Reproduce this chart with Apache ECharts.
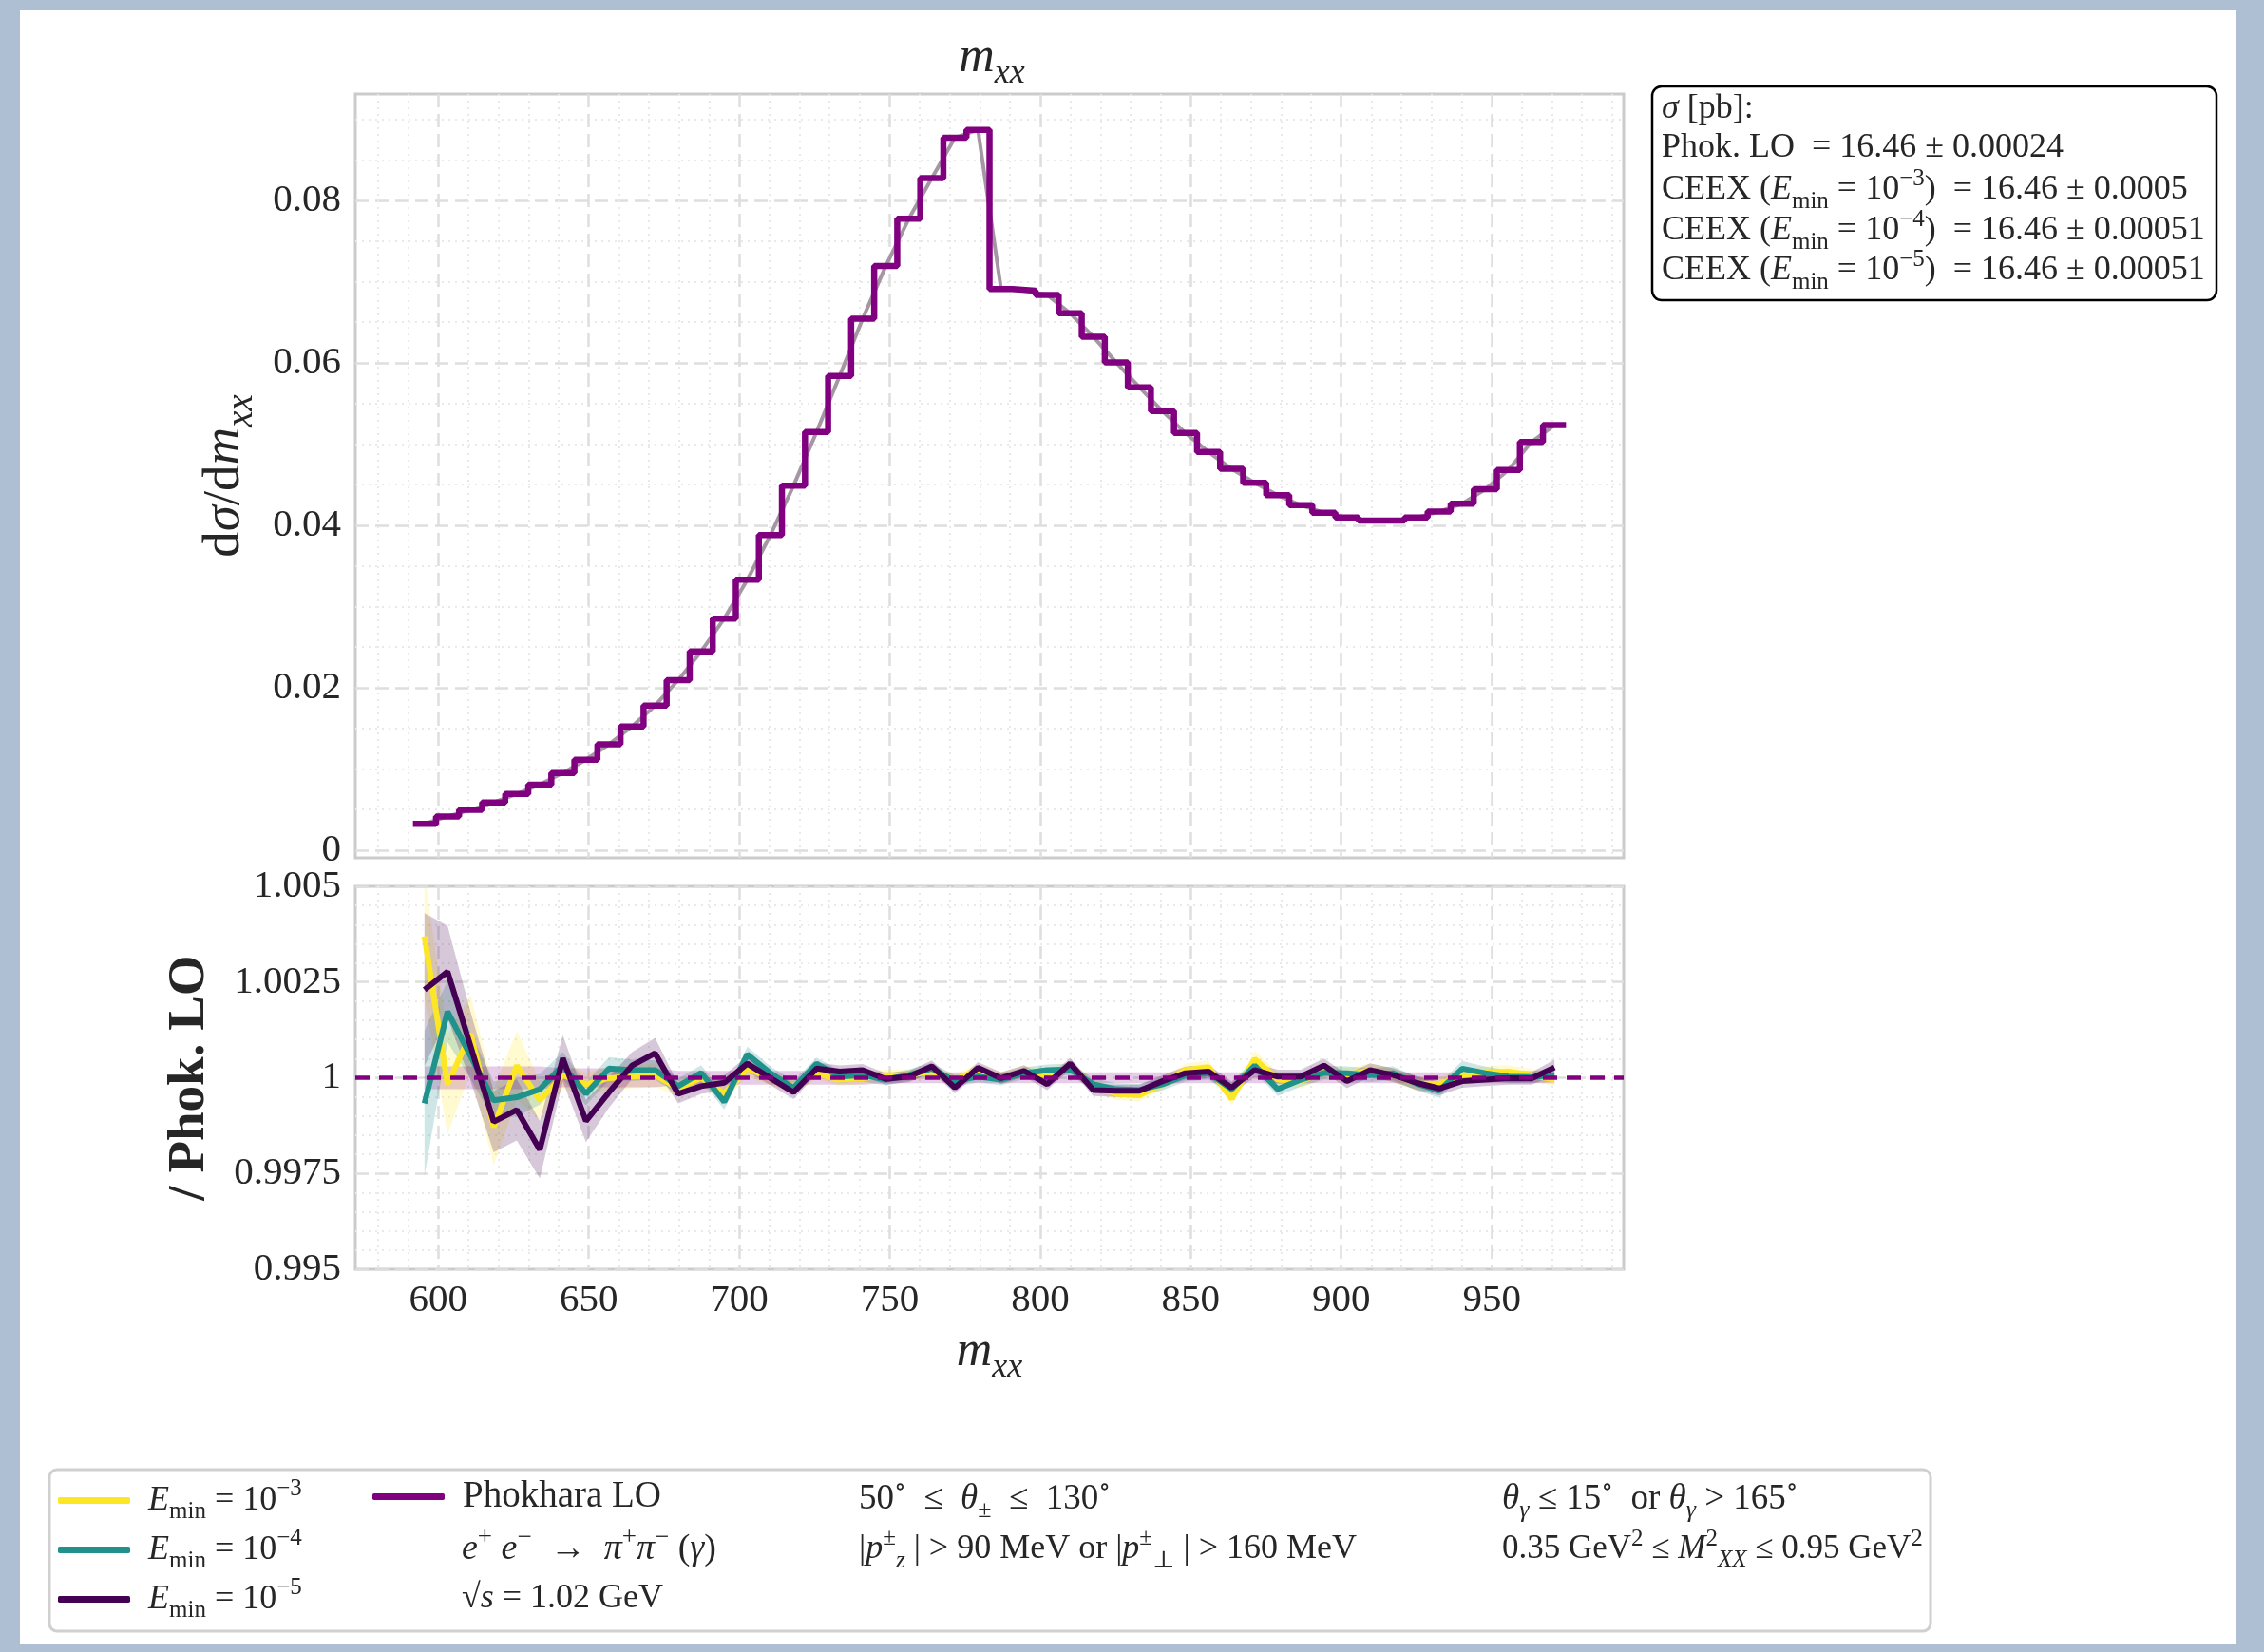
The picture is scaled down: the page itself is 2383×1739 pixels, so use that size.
<!DOCTYPE html>
<html><head><meta charset="utf-8">
<script src="https://cdn.jsdelivr.net/npm/echarts@6/dist/echarts.min.js"></script>
<style>html,body{margin:0;padding:0;background:#fff;overflow:hidden}#c{width:2383px;height:1739px}</style>
</head><body><div id="c"></div>
<script>
// ---------------- data ----------------
const massEdges = [591.61,599.27,606.93,614.59,622.26,629.92,637.58,645.24,652.90,660.56,668.22,675.89,683.55,691.21,698.87,706.53,714.19,721.85,729.52,737.18,744.84,752.50,760.16,767.82,775.48,783.15,790.81,798.47,806.13,813.79,821.45,829.11,836.77,844.44,852.10,859.76,867.42,875.08,882.74,890.40,898.07,905.73,913.39,921.05,928.71,936.37,944.03,951.70,959.36,967.02,974.68];
const massCenters = [595.44,603.10,610.76,618.43,626.09,633.75,641.41,649.07,656.73,664.39,672.06,679.72,687.38,695.04,702.70,710.36,718.02,725.69,733.35,741.01,748.67,756.33,763.99,771.65,779.32,786.98,794.64,802.30,809.96,817.62,825.28,832.94,840.61,848.27,855.93,863.59,871.25,878.91,886.57,894.24,901.90,909.56,917.22,924.88,932.54,940.20,947.87,955.53,963.19,970.85];
const phokLO = [0.00324,0.00416,0.00496,0.00588,0.00692,0.00808,0.00949,0.01114,0.01304,0.01524,0.01781,0.02093,0.02448,0.02852,0.0333,0.0388,0.04487,0.05148,0.0584,0.06543,0.07192,0.07774,0.08275,0.08771,0.08869,0.0691,0.0689,0.06837,0.0661,0.06323,0.06005,0.05699,0.05405,0.05136,0.04903,0.04695,0.04523,0.0437,0.04248,0.04156,0.04095,0.04058,0.04058,0.04095,0.04168,0.04266,0.04444,0.04682,0.05025,0.05233];
const ratioE3 = [1.00369,0.99983,1.00115,0.99871,1.00032,0.99941,1.00007,0.99983,0.99999,1.00003,1.00007,0.99972,1.00000,0.99958,1.00024,0.99999,0.99978,1.00012,0.99995,0.99999,1.00007,1.00007,1.00016,0.99995,1.0002,0.99999,1.00016,1.00007,1.00028,0.9998,0.99958,0.99954,0.99985,1.0002,1.00028,0.99945,1.00049,0.99995,0.99991,1.00016,1.00007,1.0002,1.00007,0.99985,0.99983,1.00007,1.00013,1.00016,1.00007,0.99995];
const ratioE4 = [0.99933,1.00173,1.00057,0.99941,0.99949,0.9997,1.00032,0.99958,1.00024,1.0002,1.0002,0.99978,1.00013,0.99937,1.00061,1.00012,0.99974,1.00037,1.00003,1.00007,0.99995,1.00007,1.00024,0.99991,1.00003,0.99995,1.00012,1.0002,1.00022,0.99983,0.9997,0.99968,0.99983,1.00007,1.00012,0.9997,1.00032,0.9997,0.99995,1.00013,1.00012,1.00007,1.00012,0.99985,0.99966,1.00024,1.00012,1.00003,1.00002,1.00007];
const ratioE5 = [1.0023,1.00277,1.00082,0.99885,0.99916,0.99812,1.00051,0.99887,0.99962,1.00032,1.00064,0.99958,0.99978,0.99987,1.00037,0.99999,0.99962,1.00024,1.00016,1.0002,0.99997,1.00003,1.0003,0.99974,1.00026,0.99999,1.00018,0.99983,1.00037,0.99968,0.99966,0.99966,0.99991,1.00012,1.00016,0.99974,1.0002,1.00003,1.00003,1.00032,0.99991,1.0002,1.00007,0.99987,0.99972,0.99991,0.99995,0.99999,0.99998,1.00027];
const errE3 = [0.0016,0.0013,0.0010,0.0010,0.0009,0.0005,0.00035,0.0003,0.0003,0.0003,0.0003,0.00022,0.0002,0.0002,0.0002,0.00018,0.00018,0.00016,0.00016,0.00016,0.00015,0.00015,0.00015,0.00015,0.00015,0.00015,0.00015,0.00015,0.00015,0.00016,0.00016,0.00016,0.00016,0.00017,0.00017,0.00017,0.00022,0.00018,0.00018,0.00018,0.00018,0.00018,0.00018,0.00018,0.00018,0.00017,0.00017,0.00017,0.00016,0.00016];
const errE4 = [0.0019,0.0008,0.0006,0.0005,0.0005,0.0004,0.00035,0.0003,0.0003,0.00028,0.00025,0.0002,0.0002,0.0002,0.0002,0.00018,0.00018,0.00016,0.00016,0.00016,0.00015,0.00015,0.00015,0.00015,0.00015,0.00015,0.00015,0.00015,0.00015,0.00016,0.00016,0.00016,0.00016,0.00017,0.00017,0.00017,0.00018,0.00018,0.00018,0.00018,0.00018,0.00018,0.00018,0.00018,0.00018,0.0002,0.00017,0.00017,0.00016,0.00016];
const errE5 = [0.002,0.0012,0.0009,0.0008,0.0008,0.00075,0.0006,0.00055,0.0004,0.00035,0.0004,0.00025,0.0002,0.0002,0.0002,0.00018,0.00018,0.00016,0.00016,0.00016,0.00015,0.00015,0.00015,0.00015,0.00015,0.00015,0.00015,0.00015,0.00015,0.00016,0.00016,0.00016,0.00016,0.00017,0.00017,0.00017,0.00018,0.00018,0.00018,0.00018,0.00018,0.00018,0.00018,0.00018,0.00018,0.00017,0.00017,0.00017,0.00016,0.0002];
const errPhok = [0.0003,0.0003,0.0003,0.0003,0.0003,0.0003,0.00025,0.00025,0.00025,0.00025,0.00025,0.00018,0.00018,0.00018,0.00018,0.00018,0.00018,0.00018,0.00018,0.00018,0.00014,0.00014,0.00014,0.00014,0.00014,0.00014,0.00014,0.00014,0.00014,0.00014,0.00014,0.00014,0.00014,0.00014,0.00014,0.00014,0.00014,0.00014,0.00014,0.00014,0.00014,0.00014,0.00014,0.00014,0.00014,0.00014,0.00014,0.00014,0.00014,0.00014];
const ratioOne = 1;
// ticks
const xMajorTicks = [600,650,700,750,800,850,900,950];
const xMinorTicks = [580,590,610,620,630,640,660,670,680,690,710,720,730,740,760,770,780,790,810,820,830,840,860,870,880,890,910,920,930,940,960,970,980,990];
const yTopTicks = [0,0.02,0.04,0.06,0.08];
const yTopMinor = [0.005,0.01,0.015,0.025,0.03,0.035,0.045,0.05,0.055,0.065,0.07,0.075,0.085,0.09];
const yRatioTicks = [0.995,0.9975,1,1.0025,1.005];
const yRatioMinor = [0.9955,0.996,0.9965,0.997,0.998,0.9985,0.999,0.9995,1.0005,1.001,1.0015,1.002,1.003,1.0035,1.004,1.0045];

// ---------------- style ----------------
const F = "'Liberation Serif', 'DejaVu Serif', serif";
const TXT = '#262626';
function rich(size, color) {
  const c = color || TXT;
  const lh = Math.round(size * 1.35);
  const b = {fontFamily: F, fontSize: size, color: c, lineHeight: lh, fontWeight: 'normal'};
  const s = Math.round(size * 0.7);
  return {
    r: Object.assign({}, b),
    i: Object.assign({}, b, {fontStyle: 'italic'}),
    b: Object.assign({}, b, {fontWeight: 'bold'}),
    sub: {fontFamily: F, fontSize: s, color: c, fontWeight: 'normal', lineHeight: Math.round(size * 1.0), verticalAlign: 'bottom'},
    subi: {fontFamily: F, fontSize: s, color: c, fontWeight: 'normal', fontStyle: 'italic', lineHeight: Math.round(size * 1.0), verticalAlign: 'bottom'},
    sup: {fontFamily: F, fontSize: s, color: c, fontWeight: 'normal', lineHeight: Math.round(size * 0.8), verticalAlign: 'top'},
    supi: {fontFamily: F, fontSize: s, color: c, fontWeight: 'normal', fontStyle: 'italic', lineHeight: Math.round(size * 0.8), verticalAlign: 'top'}
  };
}
const C3 = '#fde725', C4 = '#21918c', C5 = '#440154', CP = '#800080';
const majorLine = {show: true, lineStyle: {color: '#dedede', width: 2.5, type: [14, 7]}};
const minorLine = {show: true, lineStyle: {color: '#e9e9e9', width: 2, type: [2, 5]}};
const xMin = 572.46, xMax = 993.83;
const GL = 374, GW = 1335;

function hiddenAxis(gridIndex, min, max, ticks, line, extra) {
  return Object.assign({type: 'value', gridIndex, min, max,
    axisLine: {show: false}, axisTick: {show: false, customValues: ticks},
    axisLabel: {show: false}, splitLine: line}, extra || {});
}

function bandSeries(vals, errs, color) {
  return {
    type: 'custom', xAxisIndex: 1, yAxisIndex: 1, silent: true, clip: true, z: 1,
    data: massCenters.map((x, i) => [x, vals[i] - errs[i], vals[i] + errs[i]]),
    renderItem: function (params, api) {
      if (params.dataIndex !== 0) return null;
      const n = params.dataInsideLength;
      const up = [], lo = [];
      for (let j = 0; j < n; j++) {
        up.push(api.coord([api.value(0, j), api.value(2, j)]));
        lo.push(api.coord([api.value(0, j), api.value(1, j)]));
      }
      return {type: 'polygon', shape: {points: up.concat(lo.reverse())}, style: {fill: color}};
    }
  };
}
function ratioLine(name, vals, color) {
  return {name, type: 'line', xAxisIndex: 1, yAxisIndex: 1, symbol: 'none', z: 3,
    color, itemStyle: {color}, lineStyle: {color, width: 6}, clip: true,
    data: massCenters.map((x, i) => [x, vals[i]])};
}

const histData = massEdges.map((e, i) => [e, phokLO[Math.min(i, phokLO.length - 1)]]);

const legendLabels = {
  E3: '{i|E}{sub|min}{r| = 10}{sup|−3}',
  E4: '{i|E}{sub|min}{r| = 10}{sup|−4}',
  E5: '{i|E}{sub|min}{r| = 10}{sup|−5}',
  'Phokhara LO': '{r|Phokhara LO}'
};

function gtext(x, y, text, size, extra) {
  return Object.assign({type: 'text', x, y, z: 20,
    style: {text, rich: rich(size), fill: TXT, font: size + 'px ' + F, verticalAlign: 'middle', align: 'left'}}, extra || {});
}

const option = {
  backgroundColor: '#ffffff',
  animation: false,
  title: {text: '{i|m}{subi|xx}', left: 1039, top: 21, textAlign: 'center',
    textStyle: {fontWeight: 'normal', rich: rich(52)}},
  grid: [
    {left: GL, top: 99, width: GW, height: 804, show: true, borderColor: '#cbcbcb', borderWidth: 3, backgroundColor: '#fff'},
    {left: GL, top: 933, width: GW, height: 403, show: true, borderColor: '#cbcbcb', borderWidth: 3, backgroundColor: '#fff'}
  ],
  xAxis: [
    hiddenAxis(0, xMin, xMax, xMajorTicks, majorLine),
    {type: 'value', gridIndex: 1, min: xMin, max: xMax,
      axisLine: {show: false}, axisTick: {show: false, customValues: xMajorTicks},
      axisLabel: {customValues: xMajorTicks, fontFamily: F, fontSize: 41, color: TXT, margin: 13},
      splitLine: majorLine,
      name: '{i|m}{subi|xx}', nameLocation: 'middle', nameGap: 52,
      nameTextStyle: {fontWeight: 'normal', rich: rich(52)}},
    hiddenAxis(0, xMin, xMax, xMinorTicks, minorLine),
    hiddenAxis(1, xMin, xMax, xMinorTicks, minorLine)
  ],
  yAxis: [
    {type: 'value', gridIndex: 0, min: -0.00094, max: 0.0931,
      axisLine: {show: false}, axisTick: {show: false, customValues: yTopTicks},
      axisLabel: {customValues: yTopTicks, fontFamily: F, fontSize: 41, color: TXT, margin: 15,
        formatter: v => String(+(+v).toFixed(4))},
      splitLine: majorLine,
      name: '{r|d}{i|σ}{r|/d}{i|m}{subi|xx}', nameLocation: 'middle', nameRotate: 90, nameGap: 100,
      nameTextStyle: {fontWeight: 'normal', rich: rich(55)}},
    {type: 'value', gridIndex: 1, min: 0.995, max: 1.005,
      axisLine: {show: false}, axisTick: {show: false, customValues: yRatioTicks},
      axisLabel: {customValues: yRatioTicks, fontFamily: F, fontSize: 41, color: TXT, margin: 15,
        formatter: v => String(+(+v).toFixed(4))},
      splitLine: majorLine,
      name: '{b|/ Phok. LO}', nameLocation: 'middle', nameRotate: 90, nameGap: 137,
      nameTextStyle: {rich: rich(55)}},
    hiddenAxis(0, -0.00094, 0.0931, yTopMinor, minorLine),
    hiddenAxis(1, 0.995, 1.005, yRatioMinor, minorLine)
  ],
  legend: [
    {data: ['E3', 'E4', 'E5'], orient: 'vertical', left: 61, top: 1555, padding: 0, itemWidth: 76, itemHeight: 7,
      itemGap: 3, icon: 'roundRect', selectedMode: false, formatter: n => legendLabels[n],
      textStyle: {rich: rich(36), padding: [0, 0, 0, 14]}},
    {data: ['Phokhara LO'], orient: 'vertical', left: 392, top: 1556, padding: 0, itemWidth: 76, itemHeight: 7,
      icon: 'roundRect', selectedMode: false, formatter: n => legendLabels[n],
      textStyle: {rich: rich(39), padding: [0, 0, 0, 14]}}
  ],
  graphic: [
    // outer frame
    {type: 'rect', z: 30, shape: {x: 0, y: 0, width: 2383, height: 11}, style: {fill: '#aebed3'}},
    {type: 'rect', z: 30, shape: {x: 0, y: 0, width: 21, height: 1739}, style: {fill: '#aebed3'}},
    {type: 'rect', z: 30, shape: {x: 2354, y: 0, width: 29, height: 1739}, style: {fill: '#aebed3'}},
    {type: 'rect', z: 30, shape: {x: 0, y: 1731, width: 2383, height: 8}, style: {fill: '#aebed3'}},
    // info box
    {type: 'rect', z: 10, shape: {x: 1739, y: 91, width: 594, height: 225, r: 10},
      style: {fill: '#fff', stroke: '#000', lineWidth: 2.5}},
    gtext(1749, 115, '{i|σ}{r| [pb]:}', 36),
    gtext(1749, 156, '{r|Phok. LO  = 16.46 ± 0.00024}', 36),
    gtext(1749, 200, '{r|CEEX (}{i|E}{sub|min}{r| = 10}{sup|−3}{r|)  = 16.46 ± 0.0005}', 36),
    gtext(1749, 243, '{r|CEEX (}{i|E}{sub|min}{r| = 10}{sup|−4}{r|)  = 16.46 ± 0.00051}', 36),
    gtext(1749, 285, '{r|CEEX (}{i|E}{sub|min}{r| = 10}{sup|−5}{r|)  = 16.46 ± 0.00051}', 36),
    // legend frame and extra entries
    {type: 'rect', z: 0, shape: {x: 52, y: 1547, width: 1980, height: 170, r: 8},
      style: {fill: '#fff', stroke: '#d0d0d0', lineWidth: 3}},
    gtext(486, 1631, '{i|e}{sup|+}{i| e}{sup|−}{r|  →  }{i|π}{sup|+}{i|π}{sup|−}{r| (}{i|γ}{r|)}', 38),
    gtext(486, 1683, '{r|√}{i|s}{r| = 1.02 GeV}', 36),
    gtext(904, 1578, '{r|50}{sup|∘}{r|  ≤  }{i|θ}{sub|±}{r|  ≤  130}{sup|∘}', 37),
    gtext(904, 1631, '{r||}{i|p}{sup|±}{subi|z}{r| | > 90 MeV or |}{i|p}{sup|±}{sub|⊥}{r| | > 160 MeV}', 36),
    gtext(1581, 1578, '{i|θ}{subi|γ}{r| ≤ 15}{sup|∘}{r|  or }{i|θ}{subi|γ}{r| > 165}{sup|∘}', 37),
    gtext(1581, 1631, '{r|0.35 GeV}{sup|2}{r| ≤ }{i|M}{sup|2}{subi|XX}{r| ≤ 0.95 GeV}{sup|2}', 35)
  ],
  series: [
    {type: 'line', xAxisIndex: 0, yAxisIndex: 0, symbol: 'none', silent: true, z: 2,
      lineStyle: {color: '#a596a3', width: 4}, data: massCenters.map((x, i) => [x, phokLO[i]])},
    {name: 'Phokhara LO', type: 'line', step: 'end', xAxisIndex: 0, yAxisIndex: 0, symbol: 'none', z: 3,
      color: CP, itemStyle: {color: CP}, lineStyle: {color: CP, width: 6.5}, data: histData},
    bandSeries(ratioE3, errE3, 'rgba(253,231,37,0.22)'),
    bandSeries(ratioE4, errE4, 'rgba(33,145,140,0.22)'),
    bandSeries(ratioE5, errE5, 'rgba(68,1,84,0.22)'),
    bandSeries(massCenters.map(() => ratioOne), errPhok, 'rgba(128,0,128,0.2)'),
    ratioLine('E3', ratioE3, C3),
    ratioLine('E4', ratioE4, C4),
    ratioLine('E5', ratioE5, C5),
    {type: 'line', xAxisIndex: 1, yAxisIndex: 1, data: [], silent: true, z: 5,
      markLine: {silent: true, symbol: 'none', label: {show: false},
        lineStyle: {color: CP, width: 4.5, type: [15, 10]}, data: [{yAxis: ratioOne}]}}
  ]
};
const chart = echarts.init(document.getElementById('c'));
chart.setOption(option);
</script></body></html>
